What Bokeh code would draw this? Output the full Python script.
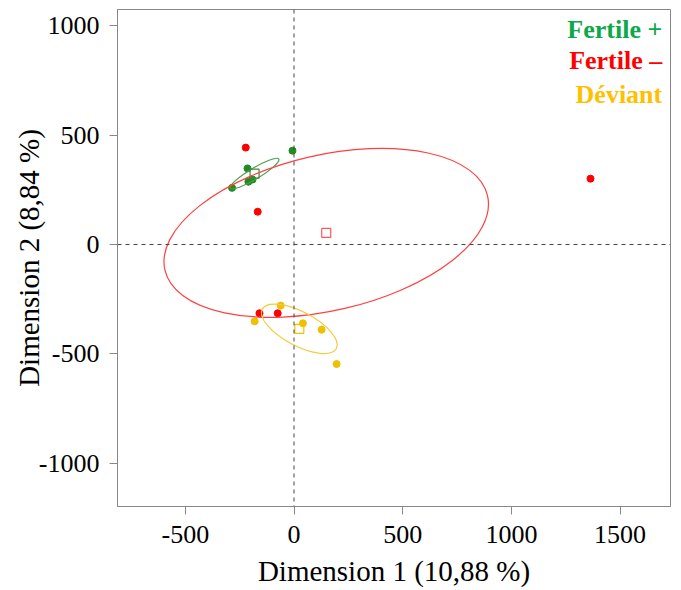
import numpy as np
from bokeh.plotting import figure
from bokeh.models import Range1d, Span, Label, FixedTicker
from bokeh.embed import file_html
from bokeh.resources import INLINE

# ---- data ----
groups = ["Fertile +", "Fertile \u2013", "D\u00e9viant"]

fert_plus_x = [-7, -214, -285, -210, -191]
fert_plus_y = [429, 348, 259, 287, 297]

fert_minus_x = [-222, -167, 1364, -159, -75]
fert_minus_y = [443, 150, 301, -314, -314]

deviant_x = [-61, -181, 41, 127, 196]
deviant_y = [-279, -351, -360, -389, -546]

# confidence ellipses: full width, full height (data units), angle (deg)
ell_width = [260, 1523, 386]
ell_height = [50, 711, 155]
ell_angle = [31, 13, -28]

x_ticks = [-500, 0, 500, 1000, 1500]
y_ticks = [-1000, -500, 0, 500, 1000]

x_label = "Dimension 1 (10,88 %)"
y_label = "Dimension 2 (8,84 %)"

# ---- styles ----
pt_colors = ["#228B22", "#FF0000", "#F0C000"]
ell_colors = ["#4E9E4E", "#FF4040", "#F2CC40"]
sq_colors = ["#3C8C3C", "#FF5A5A", "#F2C200"]
legend_colors = ["#0DA84A", "#FF0000", "#FFC000"]
FONT = "Liberation Serif"

p = figure(width=681, height=590,
           x_range=Range1d(-812, 1732), y_range=Range1d(-1197, 1074),
           output_backend="svg", toolbar_location=None,
           min_border_left=117, min_border_right=11,
           min_border_top=9, min_border_bottom=84)
p.xgrid.visible = False
p.ygrid.visible = False
p.outline_line_color = "#888888"
p.background_fill_color = "white"
p.border_fill_color = "white"

for ax, ticks in ((p.xaxis, x_ticks), (p.yaxis, y_ticks)):
    ax.ticker = FixedTicker(ticks=ticks)
    ax.major_label_overrides = {t: str(t) for t in ticks}
    ax.major_tick_out = 8
    ax.major_tick_in = 0
    ax.minor_tick_out = 0
    ax.minor_tick_in = 0
    ax.axis_line_color = "#888888"
    ax.major_tick_line_color = "#888888"
    ax.major_label_text_font = FONT
    ax.major_label_text_font_size = "26px"
    ax.major_label_text_color = "black"
    ax.axis_label_text_font = FONT
    ax.axis_label_text_font_size = "29px"
    ax.axis_label_text_font_style = "normal"
    ax.axis_label_text_color = "black"

p.xaxis.axis_label = x_label
p.yaxis.axis_label = y_label
p.xaxis.major_label_standoff = 11
p.yaxis.major_label_standoff = 10
p.xaxis.axis_label_standoff = 9
p.yaxis.axis_label_standoff = -9

p.add_layout(Span(location=0, dimension="height", line_color="#444444",
                  line_dash="4 4", line_width=1))
p.add_layout(Span(location=0, dimension="width", line_color="#444444",
                  line_dash="4 4", line_width=1))

xs = [fert_plus_x, fert_minus_x, deviant_x]
ys = [fert_plus_y, fert_minus_y, deviant_y]
means_x = [float(np.mean(v)) for v in xs]
means_y = [float(np.mean(v)) for v in ys]

for i in range(3):
    p.scatter(xs[i], ys[i], size=7, marker="circle",
              fill_color=pt_colors[i], line_color=pt_colors[i])

for i in range(3):
    p.ellipse(x=[means_x[i]], y=[means_y[i]], width=[ell_width[i]],
              height=[ell_height[i]], angle=[ell_angle[i]], angle_units="deg",
              fill_color=None, line_color=ell_colors[i], line_width=1.2)
    p.scatter([means_x[i]], [means_y[i]], marker="square", size=9,
              fill_color=None, line_color=sq_colors[i], line_width=1.2)

legend_y = [981, 839, 687]
for i in range(3):
    p.add_layout(Label(x=1694, y=legend_y[i], text=groups[i],
                       text_font=FONT, text_font_size="26px",
                       text_font_style="bold", text_color=legend_colors[i],
                       text_align="right", text_baseline="alphabetic"))

open("out.html", "w").write(file_html(p, INLINE))
